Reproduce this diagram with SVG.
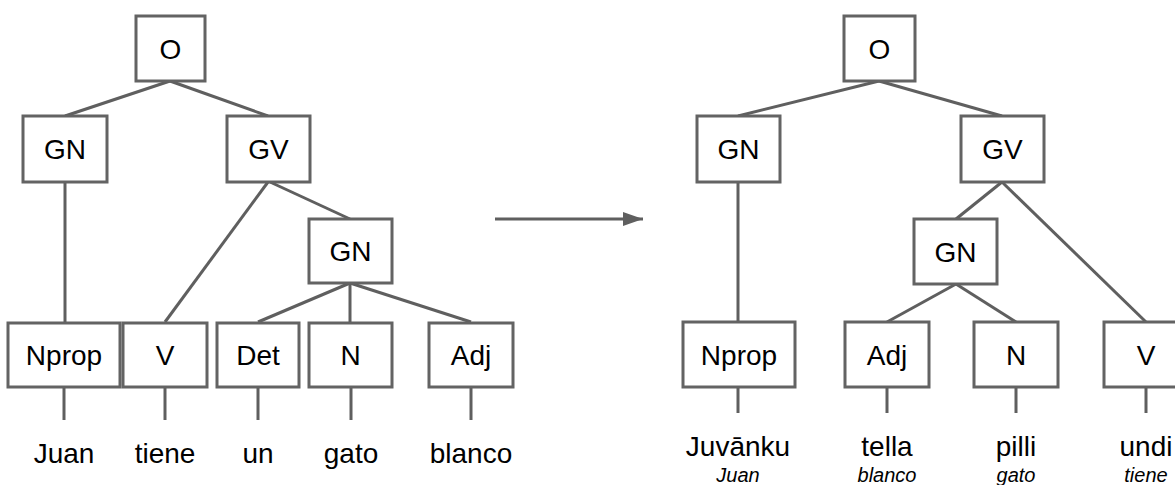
<svg xmlns="http://www.w3.org/2000/svg" width="1175" height="485" viewBox="0 0 1175 485">
<style>
.box{fill:#fff;stroke:#636363;stroke-width:3}
.ln{stroke:#5f5f5f;stroke-width:3;fill:none;stroke-linecap:butt}
.lbl{font-family:"Liberation Sans",Arial,sans-serif;font-size:28px;fill:#000;text-anchor:middle}
.gl{font-family:"Liberation Sans",Arial,sans-serif;font-size:20px;font-style:italic;fill:#000;text-anchor:middle}
</style>
<defs>
<marker id="ah" markerWidth="20" markerHeight="14" refX="20" refY="7" orient="auto" markerUnits="userSpaceOnUse">
<path d="M0,0 L20,7 L0,14 Z" fill="#5f5f5f"/>
</marker>
</defs>
<rect width="1175" height="485" fill="#fff"/>
<g id="connectors">
<!-- left tree -->
<line class="ln" x1="170" y1="81" x2="65" y2="116"/>
<line class="ln" x1="170" y1="81" x2="268" y2="116"/>
<line class="ln" x1="65" y1="182" x2="65" y2="322"/>
<line class="ln" x1="268" y1="182" x2="165" y2="322"/>
<line class="ln" x1="270" y1="182" x2="350" y2="219"/>
<line class="ln" x1="350" y1="283" x2="258" y2="322"/>
<line class="ln" x1="350" y1="283" x2="350" y2="322"/>
<line class="ln" x1="350" y1="283" x2="471" y2="322"/>
<line class="ln" x1="64" y1="387" x2="64" y2="420"/>
<line class="ln" x1="165" y1="387" x2="165" y2="420"/>
<line class="ln" x1="258" y1="387" x2="258" y2="420"/>
<line class="ln" x1="351" y1="387" x2="351" y2="420"/>
<line class="ln" x1="471" y1="387" x2="471" y2="420"/>
<!-- transformation arrow -->
<line class="ln" x1="495" y1="219" x2="643" y2="219" marker-end="url(#ah)"/>
<!-- right tree -->
<line class="ln" x1="879" y1="81" x2="738" y2="116"/>
<line class="ln" x1="879" y1="81" x2="1002" y2="116"/>
<line class="ln" x1="738" y1="182" x2="738" y2="322"/>
<line class="ln" x1="1002" y1="182" x2="956" y2="219"/>
<line class="ln" x1="1002" y1="182" x2="1146" y2="322"/>
<line class="ln" x1="956" y1="284" x2="887" y2="322"/>
<line class="ln" x1="956" y1="284" x2="1016" y2="322"/>
<line class="ln" x1="738" y1="387" x2="738" y2="413"/>
<line class="ln" x1="887" y1="387" x2="887" y2="413"/>
<line class="ln" x1="1016" y1="387" x2="1016" y2="413"/>
<line class="ln" x1="1146" y1="387" x2="1146" y2="413"/>
</g>
<!-- left tree nodes -->
<g id="L_O"><rect class="box" x="136" y="16" width="69" height="65"/><text class="lbl" x="170.5" y="58.5">O</text></g>
<g id="L_GN"><rect class="box" x="23" y="116" width="84" height="66"/><text class="lbl" x="65" y="159">GN</text></g>
<g id="L_GV"><rect class="box" x="227" y="116" width="83" height="66"/><text class="lbl" x="268.5" y="159">GV</text></g>
<g id="L_GN2"><rect class="box" x="309" y="219" width="83" height="64"/><text class="lbl" x="350.5" y="261">GN</text></g>
<g id="L_Nprop"><rect class="box" x="8" y="323" width="112" height="64"/><text class="lbl" x="64" y="365">Nprop</text></g>
<g id="L_V"><rect class="box" x="123" y="323" width="84" height="64"/><text class="lbl" x="165" y="365">V</text></g>
<g id="L_Det"><rect class="box" x="217" y="323" width="82" height="64"/><text class="lbl" x="258" y="365">Det</text></g>
<g id="L_N"><rect class="box" x="309" y="323" width="83" height="64"/><text class="lbl" x="350.5" y="365">N</text></g>
<g id="L_Adj"><rect class="box" x="429" y="323" width="84" height="64"/><text class="lbl" x="471" y="365">Adj</text></g>
<g id="L_words">
<text class="lbl" x="64" y="463">Juan</text>
<text class="lbl" x="165" y="463">tiene</text>
<text class="lbl" x="258" y="463">un</text>
<text class="lbl" x="351" y="463">gato</text>
<text class="lbl" x="471" y="463">blanco</text>
</g>
<!-- right tree nodes -->
<g id="R_O"><rect class="box" x="844" y="16" width="71" height="65"/><text class="lbl" x="879.5" y="58.5">O</text></g>
<g id="R_GN"><rect class="box" x="697" y="116" width="83" height="66"/><text class="lbl" x="738.5" y="159">GN</text></g>
<g id="R_GV"><rect class="box" x="961" y="116" width="83" height="66"/><text class="lbl" x="1002.5" y="159">GV</text></g>
<g id="R_GN2"><rect class="box" x="914" y="219" width="83" height="65"/><text class="lbl" x="955.5" y="261.5">GN</text></g>
<g id="R_Nprop"><rect class="box" x="683" y="322" width="112" height="65"/><text class="lbl" x="739" y="365">Nprop</text></g>
<g id="R_Adj"><rect class="box" x="845" y="322" width="84" height="65"/><text class="lbl" x="887" y="365">Adj</text></g>
<g id="R_N"><rect class="box" x="974" y="322" width="84" height="65"/><text class="lbl" x="1016" y="365">N</text></g>
<g id="R_V"><rect class="box" x="1104" y="322" width="86" height="65"/><text class="lbl" x="1146" y="365">V</text></g>
<g id="R_words">
<text class="lbl" x="738" y="456">Juvānku</text>
<text class="gl" x="738" y="482">Juan</text>
<text class="lbl" x="887" y="456">tella</text>
<text class="gl" x="887" y="482">blanco</text>
<text class="lbl" x="1016" y="456">pilli</text>
<text class="gl" x="1016" y="482">gato</text>
<text class="lbl" x="1146" y="456">undi</text>
<text class="gl" x="1146" y="482">tiene</text>
</g>
</svg>
